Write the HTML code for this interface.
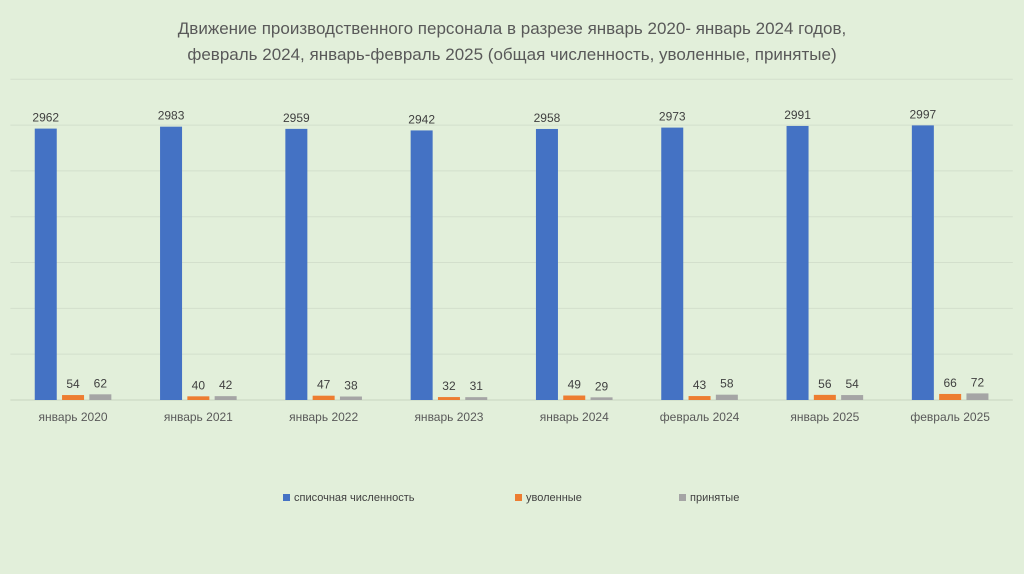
<!DOCTYPE html>
<html><head><meta charset="utf-8"><style>
body{margin:0;background:#e2efda;}
svg{display:block;font-family:"Liberation Sans","DejaVu Sans",sans-serif;}
</style></head><body>
<svg id="chart" width="1024" height="574">
<rect width="1024" height="574" fill="#e2efda"/>
<text x="512" y="34" text-anchor="middle" font-size="17" fill="#595959">Движение производственного персонала в разрезе январь 2020- январь 2024 годов,</text>
<text x="512" y="60" text-anchor="middle" font-size="17" fill="#595959">февраль 2024, январь-февраль 2025 (общая численность, уволенные, принятые)</text>
<g id="grid"></g><g id="bars"></g>
<g>
<rect x="283" y="494" width="7" height="7" fill="#4472c4"/>
<text x="294" y="501" font-size="11" fill="#404040">списочная численность</text>
<rect x="515" y="494" width="7" height="7" fill="#ed7d31"/>
<text x="526" y="501" font-size="11" fill="#404040">уволенные</text>
<rect x="679" y="494" width="7" height="7" fill="#a5a5a5"/>
<text x="690" y="501" font-size="11" fill="#404040">принятые</text>
</g>
</svg>
<script>
const categories=["январь 2020","январь 2021","январь 2022","январь 2023","январь 2024","февраль 2024","январь 2025","февраль 2025"];
const totalValues=[2962,2983,2959,2942,2958,2973,2991,2997];
const dismissedValues=[54,40,47,32,49,43,56,66];
const hiredValues=[62,42,38,31,29,58,54,72];
const yTicks=[0,500,1000,1500,2000,2500,3000,3500];
const NS="http://www.w3.org/2000/svg";
const x0=10.4,x1=1012.8,yBase=400,yTop=79.3,yMax=3500;
const band=(x1-x0)/categories.length;
const y=v=>yBase-(yBase-yTop)*v/yMax;
const xc=i=>x0+band*(i+0.5);
function mk(t,a,p){const e=document.createElementNS(NS,t);for(const k in a)e.setAttribute(k,a[k]);p.appendChild(e);return e;}
const grid=document.getElementById('grid'),bars=document.getElementById('bars');
yTicks.forEach(v=>{const l=mk('line',{x1:x0,x2:x1,y1:y(v),y2:y(v),stroke:v===0?'#c8d4c0':'#d3dfcc','stroke-width':1},grid);

});
const series=[[totalValues,'#4472c4','bar-total'],[dismissedValues,'#ed7d31','bar-dismissed'],[hiredValues,'#a5a5a5','bar-hired']];
const bw=22,step=27.3;
categories.forEach((c,i)=>{
 series.forEach((s,j)=>{
  const v=s[0][i];const bx=xc(i)+(j-1)*step-bw/2;
  const r=mk('rect',{x:bx,y:y(v),width:bw,height:yBase-y(v),fill:s[1]},bars);
  
  
  const t=mk('text',{x:bx+bw/2,y:y(v)-7,'text-anchor':'middle','font-size':12,fill:'#404040'},bars);
  t.textContent=v;
  
  
 });
 const t=mk('text',{x:xc(i),y:421,'text-anchor':'middle','font-size':12,fill:'#595959'},bars);
 t.textContent=c;
 
 
});
</script>
</body></html>
